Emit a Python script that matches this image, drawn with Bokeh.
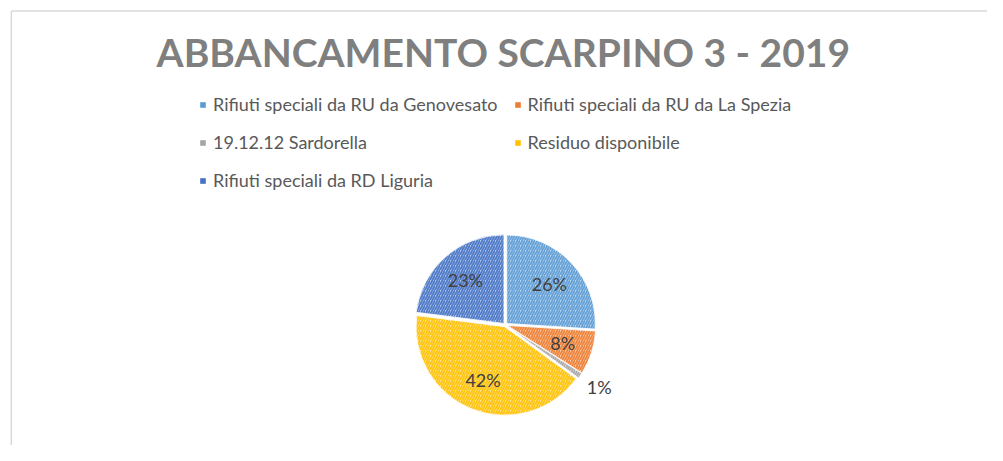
import math
from bokeh.plotting import figure
from bokeh.models import Range1d, Legend, LegendItem, Label, ColumnDataSource
from bokeh.core.properties import value
from bokeh.embed import file_html
from bokeh.resources import INLINE

# ---- data ----
categories = [
    "Rifiuti speciali da RU da Genovesato",
    "Rifiuti speciali da RU da La Spezia",
    "19.12.12 Sardorella",
    "Residuo disponibile",
    "Rifiuti speciali da RD Liguria",
]
shares = [26, 8, 1, 42, 23]
base_colors = ["#5B9BD5", "#ED7D31", "#A5A5A5", "#FFC000", "#4472C4"]
title_text = "ABBANCAMENTO SCARPINO 3 - 2019"

# ---- layout: data coordinates = reference image pixels ----
W, H = 987, 445
REF_W, REF_H = 1003, 461


def Y(py):
    return REF_H - py


def lighten(hexc, f):
    r, g, b = (int(hexc[i:i + 2], 16) for i in (1, 3, 5))
    r, g, b = (round(c + (255 - c) * f) for c in (r, g, b))
    return "#%02x%02x%02x" % (r, g, b)


p = figure(width=W, height=H, x_range=Range1d(0, REF_W), y_range=Range1d(0, REF_H),
           output_backend="svg", toolbar_location=None, min_border=0,
           x_axis_type=None, y_axis_type=None)
p.grid.visible = False
p.outline_line_color = None
p.background_fill_color = "white"

# chart frame (left and top edges)
p.segment(x0=[11, 11], y0=[Y(11), Y(11)], x1=[11, REF_W], y1=[0, Y(11)],
          line_color="#d9d9d9", line_width=1.5)

# ---- pie ----
cx, cy, R = 513, Y(336), 90
explode = 2.0
total = float(sum(shares))
starts, ends, xs, ys, mids = [], [], [], [], []
cum = 0.0
for s in shares:
    a0 = math.pi / 2 - 2 * math.pi * cum / total
    cum += s
    a1 = math.pi / 2 - 2 * math.pi * cum / total
    m = (a0 + a1) / 2
    starts.append(a0)
    ends.append(a1)
    mids.append(m)
    xs.append(cx + explode * math.cos(m))
    ys.append(cy + explode * math.sin(m))

src = ColumnDataSource(dict(
    x=xs, y=ys, start=starts, end=ends, cat=categories,
    fill=[lighten(c, 0.62) for c in base_colors],
    hatch=base_colors,
    base=base_colors,
))
wr = p.wedge(x="x", y="y", radius=R, start_angle="start", end_angle="end", direction="clock",
             source=src, fill_color="fill", line_color="white", line_width=0.8,
             hatch_pattern="/", hatch_color="hatch", hatch_scale=5, hatch_weight=1.8,
             hatch_alpha=0.9)
# solid-colour twin (zero radius) used only for the legend swatches
lr = p.wedge(x="x", y="y", radius=0, start_angle="start", end_angle="end", direction="clock",
             source=src, fill_color="base", line_alpha=0)

# percentage labels
lx, ly, lt = [], [], []
for s, m, x0, y0 in zip(shares, mids, xs, ys):
    k = 0.66 if s / total >= 0.03 else 1.26
    lx.append(x0 + k * R * math.cos(m))
    ly.append(y0 + k * R * math.sin(m))
    lt.append("%d%%" % round(100 * s / total))
p.text(x=lx, y=ly, text=lt, text_align="center", text_baseline="middle",
       text_font=value("Lato"), text_font_size="18px", text_color="#404040")

# ---- title ----
p.add_layout(Label(x=511, y=Y(53), text=title_text, text_align="center", text_baseline="middle",
                   text_font="Lato", text_font_style="bold", text_font_size="39px",
                   text_color="#7f7f7f"))

# ---- legend ----
items = [LegendItem(label=c, renderers=[lr], index=i) for i, c in enumerate(categories)]
legend = Legend(items=items, ncols=2, orientation="horizontal",
                location=(199, 254),
                glyph_width=7, glyph_height=7, label_standoff=7,
                label_text_font="Lato", label_text_font_size="18px", label_text_color="#595959",
                label_height=22, spacing=16, padding=0, margin=0,
                border_line_alpha=0, background_fill_alpha=0)
p.add_layout(legend, "center")

open("out.html", "w").write(file_html(p, INLINE))
